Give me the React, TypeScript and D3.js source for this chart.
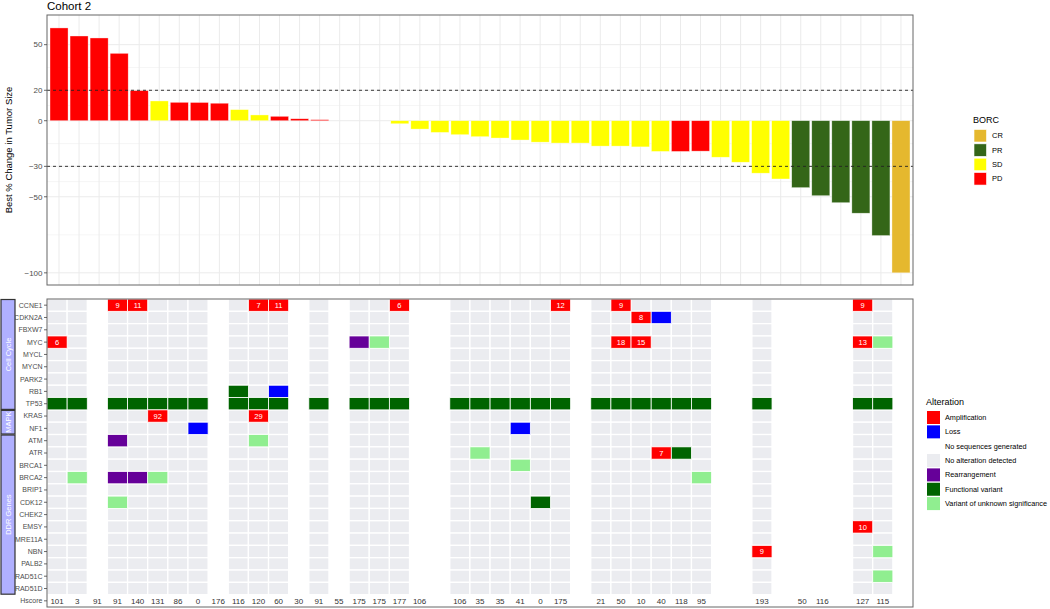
import React from 'react';
import * as d3 from 'd3';

// ---------- DATA ----------
const bestChange = [
  61, 55.7, 54.4, 44.3, 19.8, 13, 12.1, 12, 11.5, 7.3, 3.8, 2.9, 1.3, 0.7, 0, 0, 0,
  -2, -5.5, -7.7, -9.2, -10.5, -11.4, -12.7, -14.1, -14.7, -14.7, -16.7, -16.7, -17.2,
  -20.2, -20.2, -20, -24, -27.3, -34.5, -38.3, -44, -49.3, -53.9, -60.8, -75.5, -100,
];
const borc = [
  'PD', 'PD', 'PD', 'PD', 'PD', 'SD', 'PD', 'PD', 'PD', 'SD', 'SD', 'PD', 'PD', 'PD', 'SD', 'SD', 'SD',
  'SD', 'SD', 'SD', 'SD', 'SD', 'SD', 'SD', 'SD', 'SD', 'SD', 'SD', 'SD', 'SD',
  'SD', 'PD', 'PD', 'SD', 'SD', 'SD', 'SD', 'PR', 'PR', 'PR', 'PR', 'PR', 'CR',
];
const hscore = [
  '101', '3', '91', '91', '140', '131', '86', '0', '176', '116', '120', '60', '30', '91', '55',
  '175', '175', '177', '106', '', '106', '35', '35', '41', '0', '175', '', '21', '50', '10',
  '40', '118', '95', '', '', '193', '', '50', '116', '', '127', '115', '',
];
// 1 = sequences generated, 0 = no sequences generated
const sequenced = [
  1, 1, 0, 1, 1, 1, 1, 1, 0, 1, 1, 1, 0, 1, 0,
  1, 1, 1, 0, 0, 1, 1, 1, 1, 1, 1, 0, 1, 1, 1,
  1, 1, 1, 0, 0, 1, 0, 0, 0, 0, 1, 1, 0,
];
const cellCycleGenes = ['CCNE1', 'CDKN2A', 'FBXW7', 'MYC', 'MYCL', 'MYCN', 'PARK2', 'RB1', 'TP53'];
const mapkGenes = ['KRAS', 'NF1'];
const ddrGenes = ['ATM', 'ATR', 'BRCA1', 'BRCA2', 'BRIP1', 'CDK12', 'CHEK2', 'EMSY', 'MRE11A', 'NBN', 'PALB2', 'RAD51C', 'RAD51D'];

// [column (1-based), gene, alteration, label]
const alterations: [number, string, string, string][] = [
  [1, 'MYC', 'Amplification', '6'], [1, 'TP53', 'Functional variant', ''],
  [2, 'TP53', 'Functional variant', ''], [2, 'BRCA2', 'Variant of unknown significance', ''],
  [4, 'CCNE1', 'Amplification', '9'], [4, 'TP53', 'Functional variant', ''], [4, 'ATM', 'Rearrangement', ''],
  [4, 'BRCA2', 'Rearrangement', ''], [4, 'CDK12', 'Variant of unknown significance', ''],
  [5, 'CCNE1', 'Amplification', '11'], [5, 'TP53', 'Functional variant', ''], [5, 'BRCA2', 'Rearrangement', ''],
  [6, 'TP53', 'Functional variant', ''], [6, 'KRAS', 'Amplification', '92'], [6, 'BRCA2', 'Variant of unknown significance', ''],
  [7, 'TP53', 'Functional variant', ''],
  [8, 'TP53', 'Functional variant', ''], [8, 'NF1', 'Loss', ''],
  [10, 'RB1', 'Functional variant', ''], [10, 'TP53', 'Functional variant', ''],
  [11, 'CCNE1', 'Amplification', '7'], [11, 'TP53', 'Functional variant', ''], [11, 'KRAS', 'Amplification', '29'],
  [11, 'ATM', 'Variant of unknown significance', ''],
  [12, 'CCNE1', 'Amplification', '11'], [12, 'RB1', 'Loss', ''], [12, 'TP53', 'Functional variant', ''],
  [14, 'TP53', 'Functional variant', ''],
  [16, 'MYC', 'Rearrangement', ''], [16, 'TP53', 'Functional variant', ''],
  [17, 'MYC', 'Variant of unknown significance', ''], [17, 'TP53', 'Functional variant', ''],
  [18, 'CCNE1', 'Amplification', '6'], [18, 'TP53', 'Functional variant', ''],
  [21, 'TP53', 'Functional variant', ''],
  [22, 'TP53', 'Functional variant', ''], [22, 'ATR', 'Variant of unknown significance', ''],
  [23, 'TP53', 'Functional variant', ''],
  [24, 'TP53', 'Functional variant', ''], [24, 'NF1', 'Loss', ''], [24, 'BRCA1', 'Variant of unknown significance', ''],
  [25, 'TP53', 'Functional variant', ''], [25, 'CDK12', 'Functional variant', ''],
  [26, 'CCNE1', 'Amplification', '12'], [26, 'TP53', 'Functional variant', ''],
  [28, 'TP53', 'Functional variant', ''],
  [29, 'CCNE1', 'Amplification', '9'], [29, 'MYC', 'Amplification', '18'], [29, 'TP53', 'Functional variant', ''],
  [30, 'CDKN2A', 'Amplification', '8'], [30, 'MYC', 'Amplification', '15'], [30, 'TP53', 'Functional variant', ''],
  [31, 'CDKN2A', 'Loss', ''], [31, 'TP53', 'Functional variant', ''], [31, 'ATR', 'Amplification', '7'],
  [32, 'TP53', 'Functional variant', ''], [32, 'ATR', 'Functional variant', ''],
  [33, 'TP53', 'Functional variant', ''], [33, 'BRCA2', 'Variant of unknown significance', ''],
  [36, 'TP53', 'Functional variant', ''], [36, 'NBN', 'Amplification', '9'],
  [41, 'CCNE1', 'Amplification', '9'], [41, 'MYC', 'Amplification', '13'], [41, 'TP53', 'Functional variant', ''],
  [41, 'EMSY', 'Amplification', '10'],
  [42, 'MYC', 'Variant of unknown significance', ''], [42, 'TP53', 'Functional variant', ''],
  [42, 'NBN', 'Variant of unknown significance', ''], [42, 'RAD51C', 'Variant of unknown significance', ''],
];

const yBreaks = [50, 20, 0, -30, -50, -100];
const refLines = [20, -30];
const borcLevels = ['CR', 'PR', 'SD', 'PD'];
const borcColors = ['#E5B82E', '#346618', '#FFFF00', '#FF0000'];
const altLevels = ['Amplification', 'Loss', 'No sequences generated', 'No alteration detected', 'Rearrangement', 'Functional variant', 'Variant of unknown significance'];
const altColors = ['#FF0000', '#0000FF', '#FFFFFF', '#EBECF0', '#660099', '#006400', '#90EE90'];

const FONT = 'Liberation Sans, Arial, Helvetica, sans-serif';

export default function App() {
  const n = bestChange.length;
  const cols = d3.range(n);
  const borcColor = d3.scaleOrdinal<string, string>().domain(borcLevels).range(borcColors);
  const altColor = d3.scaleOrdinal<string, string>().domain(altLevels).range(altColors);

  // top panel
  const tL = 47, tR = 913, tT = 15, tB = 285;
  const xTop = d3.scalePoint<number>().domain(cols).range([tL, tR]).padding(0.6);
  const step = xTop.step();
  const bw = step * 0.9;
  const yTop = d3.scaleLinear().domain([-108, 69.5]).range([tB, tT]);
  const minorBreaks = yBreaks.slice(1).map((b, i) => (b + yBreaks[i]) / 2);

  // bottom panel
  const genes = [...cellCycleGenes, ...mapkGenes, ...ddrGenes];
  const rows = [...genes, 'Hscore'];
  const bL = 47, bR = 913, bT = 299, bB = 607;
  const xBot = d3.scaleBand<number>().domain(cols).range([bL, bR]);
  const yBot = d3.scaleBand<string>().domain(rows).range([bT, bB]);
  const cw = xBot.bandwidth();
  const rh = yBot.bandwidth();

  const groups = [
    { name: 'Cell Cycle', genes: cellCycleGenes },
    { name: 'MAPK', genes: mapkGenes },
    { name: 'DDR Genes', genes: ddrGenes },
  ];

  return (
    <svg width={1050} height={609} style={{ position: 'absolute', left: 0, top: 0, fontFamily: FONT }}>
      <rect x={0} y={0} width={1050} height={609} fill="#fff" />
      {/* Title */}
      <text x={47} y={10} fontSize={11.5} fill="#000">Cohort 2</text>

      {/* Top panel grid */}
      {minorBreaks.map((b, i) => (
        <line key={'mn' + i} x1={tL} x2={tR} y1={yTop(b)} y2={yTop(b)} stroke="#F4F4F4" strokeWidth={0.8} />
      ))}
      {yBreaks.map((b) => (
        <line key={'mj' + b} x1={tL} x2={tR} y1={yTop(b)} y2={yTop(b)} stroke="#EBEBEB" strokeWidth={1} />
      ))}
      {cols.map((c) => (
        <line key={'vg' + c} x1={xTop(c)} x2={xTop(c)} y1={tT} y2={tB} stroke="#EBEBEB" strokeWidth={1} />
      ))}
      {/* Bars */}
      {cols.map((c) => {
        const v = bestChange[c];
        const y0 = yTop(Math.max(0, v));
        const y1 = yTop(Math.min(0, v));
        return (
          <rect key={'b' + c} x={(xTop(c) as number) - bw / 2} y={y0} width={bw} height={Math.max(0, y1 - y0)}
            fill={borcColor(borc[c])} stroke="#FFFFFF" strokeOpacity={0.6} strokeWidth={0.6} />
        );
      })}
      {refLines.map((r) => (
        <line key={'rl' + r} x1={tL} x2={tR} y1={yTop(r)} y2={yTop(r)} stroke="#222" strokeWidth={0.9} strokeDasharray="3,3" />
      ))}
      <rect x={tL} y={tT} width={tR - tL} height={tB - tT} fill="none" stroke="#666" strokeWidth={1} />
      {/* Y axis */}
      {yBreaks.map((b) => (
        <g key={'yt' + b}>
          <line x1={44} x2={tL} y1={yTop(b)} y2={yTop(b)} stroke="#444" strokeWidth={0.8} />
          <text x={42.5} y={yTop(b)} dy="0.35em" fontSize={8} fill="#4D4D4D" textAnchor="end">{b === -100 || b < 0 ? '\u2212' + Math.abs(b) : b}</text>
        </g>
      ))}
      <text transform={`translate(12, ${(tT + tB) / 2}) rotate(-90)`} fontSize={9.5} fill="#000" textAnchor="middle">Best % Change in Tumor Size</text>

      {/* BORC legend */}
      <text x={973} y={123} fontSize={9} fill="#000">BORC</text>
      {borcLevels.map((l, i) => (
        <g key={'bl' + l}>
          <rect x={974} y={129.5 + i * 14.35} width={12.5} height={12.5} fill={borcColor(l)} stroke="#fff" strokeWidth={0.6} />
          <text x={992} y={135.8 + i * 14.35} dy="0.35em" fontSize={7.5} fill="#000">{l}</text>
        </g>
      ))}

      {/* Bottom panel tiles */}
      {cols.filter((c) => sequenced[c]).map((c) =>
        genes.map((g) => (
          <rect key={'t' + c + g} x={xBot(c)} y={yBot(g)} width={cw} height={rh}
            fill={altColor('No alteration detected')} stroke="#fff" strokeWidth={1.3} />
        ))
      )}
      {alterations.map(([c, g, a, lab], i) => {
        const x = xBot(c - 1) as number;
        const y = yBot(g) as number;
        return (
          <g key={'a' + i}>
            <rect x={x} y={y} width={cw} height={rh} fill={altColor(a)} stroke="#fff" strokeWidth={0.8} />
            {lab && (
              <text x={x + cw / 2} y={y + rh / 2} dy="0.36em" fontSize={7.5} fill="#fff" textAnchor="middle">{lab}</text>
            )}
          </g>
        );
      })}
      {/* Hscore row */}
      {cols.map((c) => (
        <text key={'h' + c} x={(xBot(c) as number) + cw / 2} y={(yBot('Hscore') as number) + rh / 2} dy="0.36em"
          fontSize={8} fill="#333" textAnchor="middle">{hscore[c]}</text>
      ))}
      <rect x={bL} y={bT} width={bR - bL} height={bB - bT} fill="none" stroke="#666" strokeWidth={1} />
      {/* Row labels */}
      {rows.map((r) => (
        <g key={'rl' + r}>
          <line x1={44} x2={bL} y1={(yBot(r) as number) + rh / 2} y2={(yBot(r) as number) + rh / 2} stroke="#444" strokeWidth={0.8} />
          <text x={42.5} y={(yBot(r) as number) + rh / 2} dy="0.35em" fontSize={7} fill="#4D4D4D" textAnchor="end">{r}</text>
        </g>
      ))}
      {/* Strips */}
      {groups.map((gr) => {
        const y0 = yBot(gr.genes[0]) as number;
        const y1 = (yBot(gr.genes[gr.genes.length - 1]) as number) + rh;
        return (
          <g key={'s' + gr.name}>
            <rect x={1} y={y0 + 0.5} width={14} height={y1 - y0 - 1} fill="#B0B0FF" stroke="#333" strokeWidth={1.2} />
            <text transform={`translate(8, ${(y0 + y1) / 2}) rotate(-90)`} dy="0.35em" fontSize={7.5} fill="#fff" textAnchor="middle">{gr.name}</text>
          </g>
        );
      })}

      {/* Alteration legend */}
      <text x={926} y={405} fontSize={9} fill="#000">Alteration</text>
      {altLevels.map((l, i) => (
        <g key={'al' + l}>
          <rect x={927} y={411 + i * 14.35} width={13} height={13} fill={altColor(l)} />
          <text x={945} y={417.5 + i * 14.35} dy="0.35em" fontSize={7.3} fill="#000">{l}</text>
        </g>
      ))}
    </svg>
  );
}
